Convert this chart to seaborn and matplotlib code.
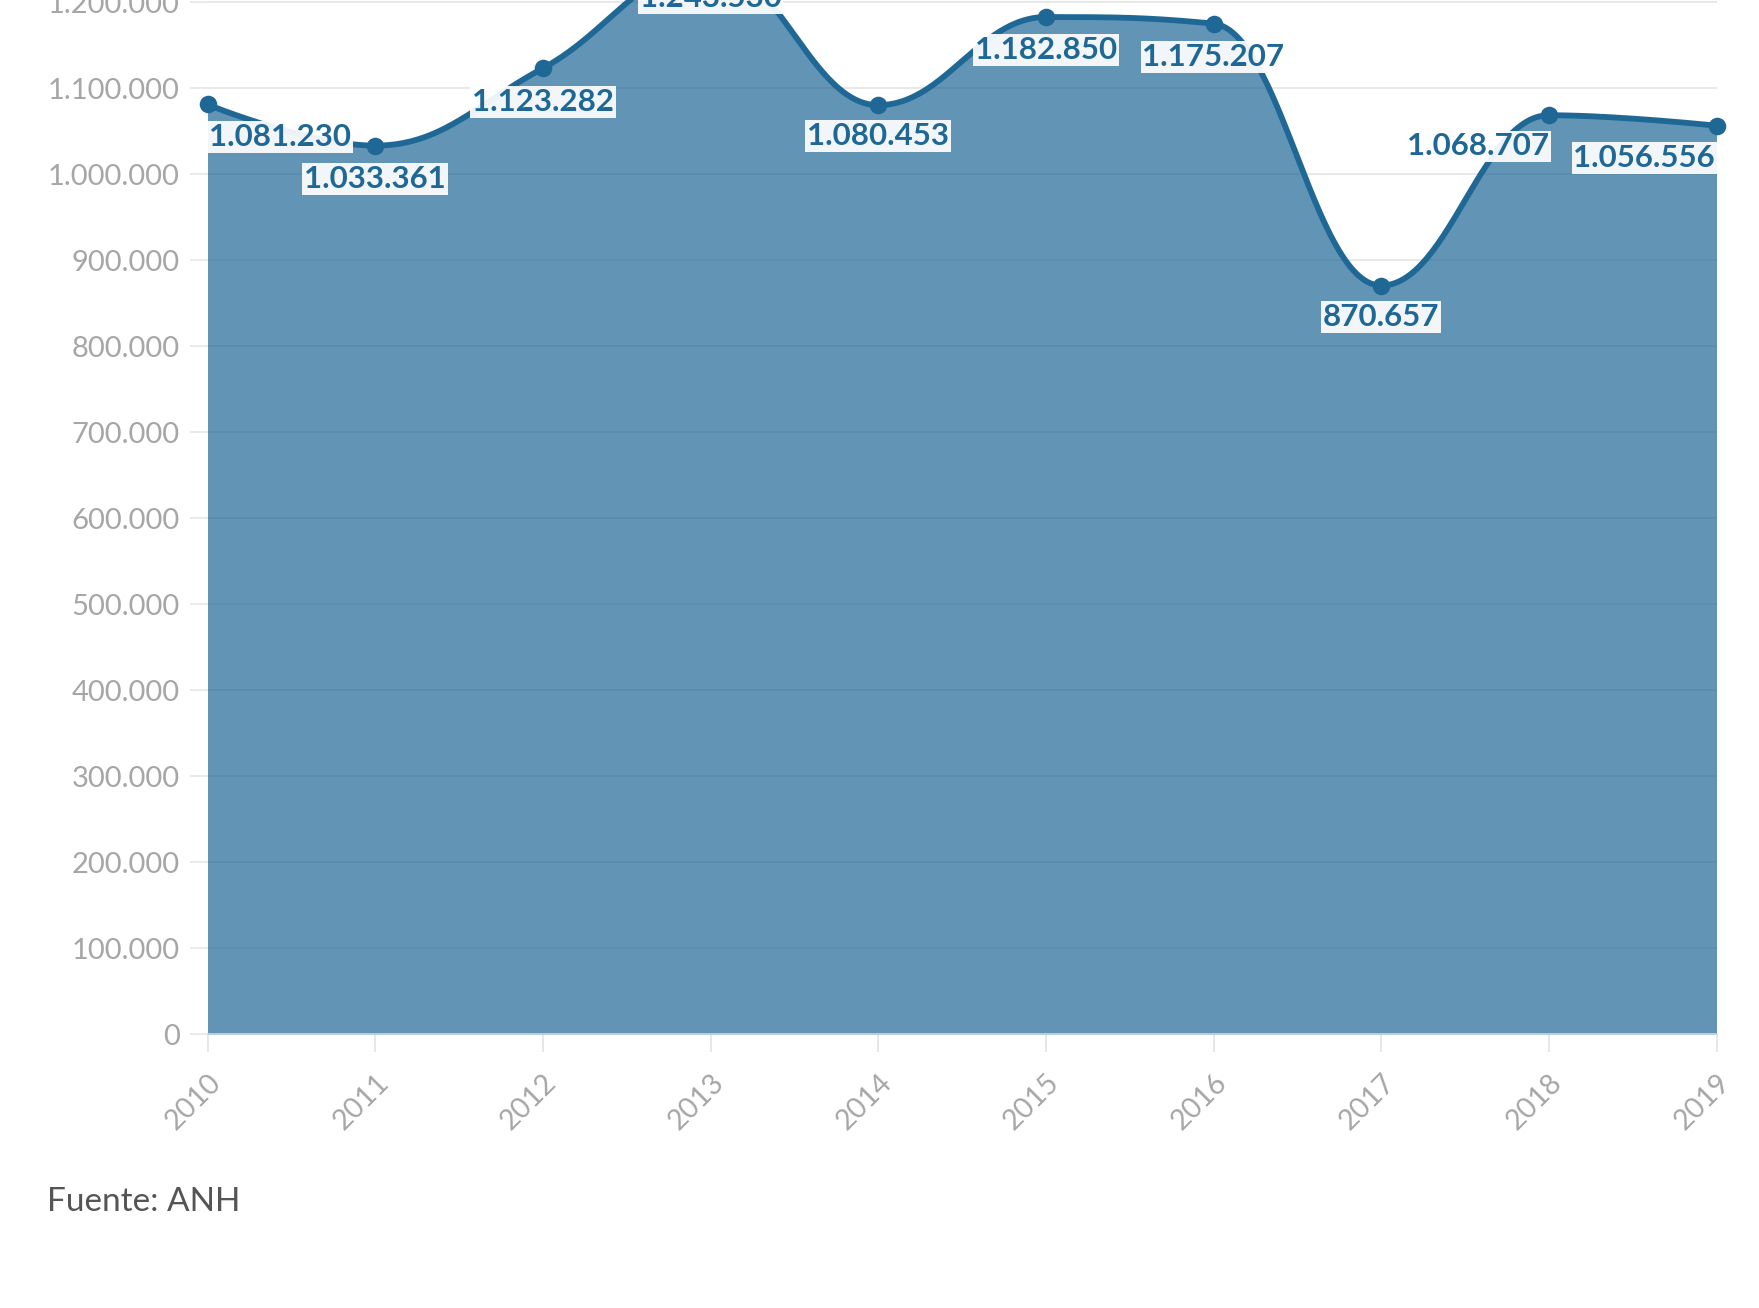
import numpy as np
import pandas as pd
import matplotlib
matplotlib.use("Agg")
import matplotlib.pyplot as plt
import seaborn as sns

# ---- data ----
years = [2010, 2011, 2012, 2013, 2014, 2015, 2016, 2017, 2018, 2019]
values = [1081230, 1033361, 1123282, 1243530, 1080453, 1182850, 1175207, 870657, 1068707, 1056556]
y_ticks = [0, 100000, 200000, 300000, 400000, 500000, 600000, 700000, 800000, 900000,
           1000000, 1100000, 1200000]
source_text = "Fuente: ANH"


def fmt(v):
    return f"{v:,}".replace(",", ".")


# label offsets (points) for each data label
label_offsets = [(52, -23.5), (0, -24), (0, -24), (0, -24), (0, -22), (0, -23.5), (0, -24),
                 (0, -22.5), (-51, -22.5), (-52, -23)]

# ---- spline (Highcharts-style cubic bezier) ----
def spline_curve(xs, ys, smoothing=1.5, n=60):
    xs = np.asarray(xs, float)
    ys = np.asarray(ys, float)
    m = len(xs)
    lcx, lcy, rcx, rcy = xs.copy(), ys.copy(), xs.copy(), ys.copy()
    d = smoothing + 1
    for i in range(1, m - 1):
        px, py = xs[i], ys[i]
        lx, ly = xs[i - 1], ys[i - 1]
        nx, ny = xs[i + 1], ys[i + 1]
        lcX = (smoothing * px + lx) / d
        lcY = (smoothing * py + ly) / d
        rcX = (smoothing * px + nx) / d
        rcY = (smoothing * py + ny) / d
        corr = ((rcY - lcY) * (rcX - px)) / (rcX - lcX) + py - rcY
        lcY += corr
        rcY += corr
        if lcY > max(ly, py):
            lcY = max(ly, py); rcY = 2 * py - lcY
        elif lcY < min(ly, py):
            lcY = min(ly, py); rcY = 2 * py - lcY
        if rcY > max(py, ny):
            rcY = max(py, ny); lcY = 2 * py - rcY
        elif rcY < min(py, ny):
            rcY = min(py, ny); lcY = 2 * py - rcY
        lcx[i], lcy[i], rcx[i], rcy[i] = lcX, lcY, rcX, rcY
    outx, outy = [], []
    t = np.linspace(0, 1, n)
    for i in range(m - 1):
        P0 = (xs[i], ys[i]); P1 = (rcx[i], rcy[i])
        P2 = (lcx[i + 1], lcy[i + 1]); P3 = (xs[i + 1], ys[i + 1])
        bx = ((1 - t) ** 3) * P0[0] + 3 * ((1 - t) ** 2) * t * P1[0] + 3 * (1 - t) * t ** 2 * P2[0] + t ** 3 * P3[0]
        by = ((1 - t) ** 3) * P0[1] + 3 * ((1 - t) ** 2) * t * P1[1] + 3 * (1 - t) * t ** 2 * P2[1] + t ** 3 * P3[1]
        if i > 0:
            bx, by = bx[1:], by[1:]
        outx.extend(bx); outy.extend(by)
    return np.array(outx), np.array(outy)


cx, cy = spline_curve(years, values)
curve = pd.DataFrame({"year": cx, "value": cy})
points = pd.DataFrame({"year": years, "value": values})

# ---- style ----
sns.set_theme(style="white")
plt.rcParams["font.family"] = ["Lato", "DejaVu Sans"]

line_color = "#1f6896"
fill_color = "#1f6896"
grid_color = "#e6e6e6"
tick_text = "#a6a6a6"

fig = plt.figure(figsize=(17.59, 13.08), dpi=100)
ax = fig.add_axes([207.5 / 1759, 1 - 1034.3 / 1308, (1716.5 - 207.5) / 1759, 1034.3 / 1308])

ax.set_axisbelow(True)
ax.yaxis.grid(True, color=grid_color, linewidth=1.3)
ax.xaxis.grid(False)

ax.fill_between(curve["year"], curve["value"], 0, color=fill_color, alpha=0.70,
                linewidth=0, zorder=2)
sns.lineplot(data=curve, x="year", y="value", ax=ax, color=line_color, linewidth=4.2,
             zorder=3, sort=False)
sns.scatterplot(data=points, x="year", y="value", ax=ax, color=line_color, s=160,
                edgecolor=line_color, linewidth=0, zorder=4, clip_on=False)

for x, v, (dx, dy) in zip(years, values, label_offsets):
    ax.annotate(fmt(v), (x, v), xytext=(dx, dy), textcoords="offset points",
                ha="center", va="center", fontsize=22.5, fontweight="bold", color=line_color,
                bbox=dict(boxstyle="square,pad=0.06", facecolor="white", edgecolor="none",
                          alpha=0.92),
                zorder=6, annotation_clip=False)

ax.set_xlim(2010, 2019)
ax.set_ylim(0, 1202700)
ax.set_yticks(y_ticks)
ax.set_yticklabels([fmt(v) for v in y_ticks])
ax.set_xticks(years)
ax.set_xticklabels([str(y) for y in years], rotation=45, ha="right", rotation_mode="anchor")
ax.set_xlabel("")
ax.set_ylabel("")

ax.tick_params(axis="y", length=13, width=1.2, color=grid_color, pad=7,
               labelsize=21, labelcolor=tick_text, left=True)
ax.tick_params(axis="x", length=13, width=1.2, color="#dde3ee", pad=12,
               labelsize=20.5, labelcolor=tick_text, bottom=True)

for s in ["top", "right", "left"]:
    ax.spines[s].set_visible(False)
ax.spines["bottom"].set_color("#ccd6eb")
ax.spines["bottom"].set_linewidth(1.2)

fig.text(47 / 1759, 1 - 1202 / 1308, source_text, ha="left", va="center",
         fontsize=24, color="#555555")

fig.savefig("out.png", dpi=100)
